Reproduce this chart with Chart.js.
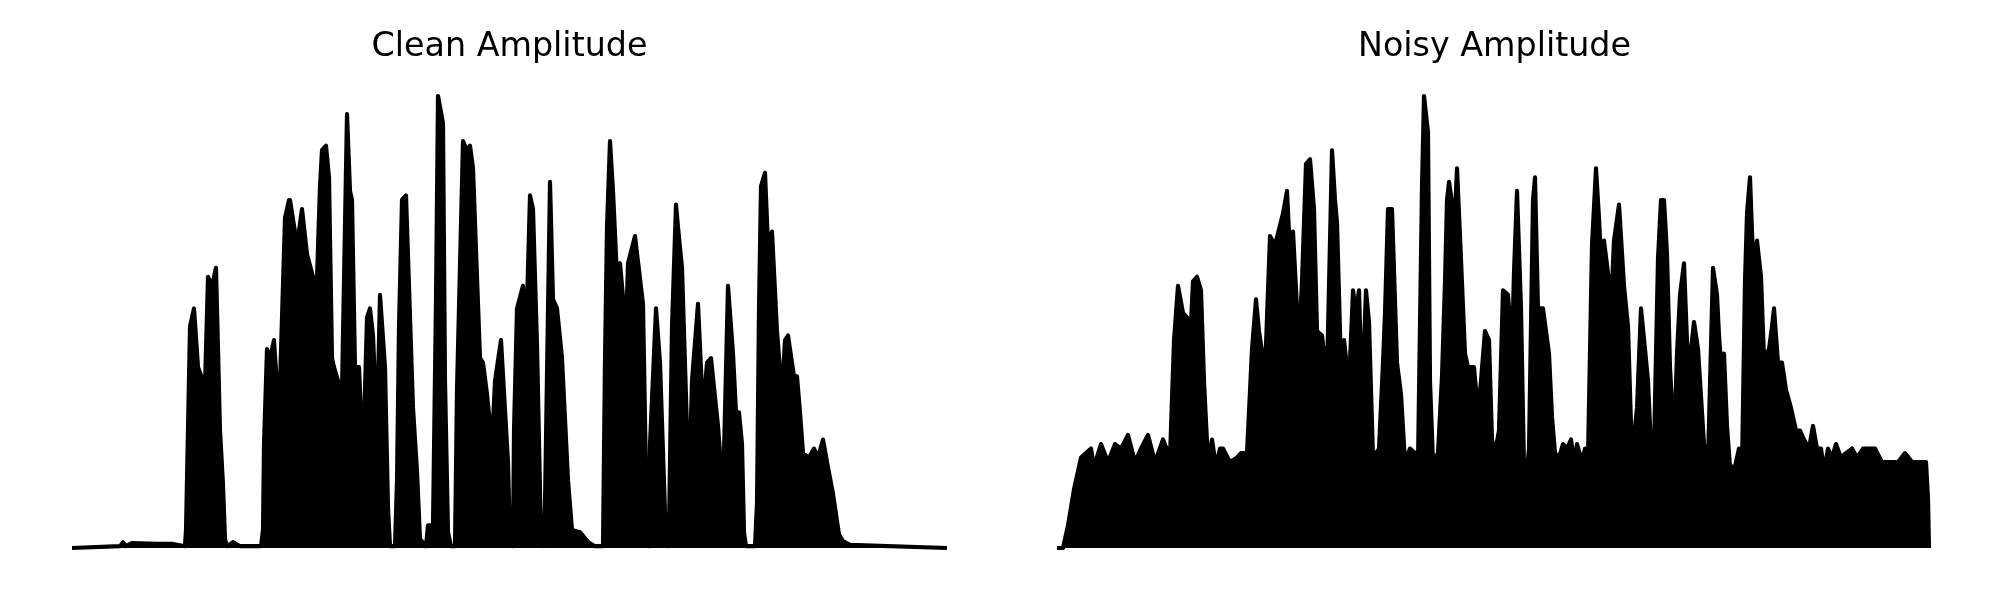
<!DOCTYPE html>
<html>
<head>
<meta charset="utf-8">
<script src="https://cdn.jsdelivr.net/npm/chart.js@4.4.1/dist/chart.umd.min.js"></script>
<style>
  html, body { margin: 0; padding: 0; background: #fff; }
  #wrap { position: relative; width: 2000px; height: 600px; }
  .panel { position: absolute; top: 0; width: 1000px; height: 600px; }
</style>
</head>
<body>
<div id="wrap">
  <div class="panel" style="left:0"><canvas id="clean" width="1000" height="600"></canvas></div>
  <div class="panel" style="left:1000px"><canvas id="noisy" width="1000" height="600"></canvas></div>
</div>
<script>
// envelope of the amplitude (frame index, normalised amplitude)
const titles = ["Clean Amplitude", "Noisy Amplitude"];
const frameCount = 875;

const cleanFrames = [0,48,51,54,60,85,101,113,114,118,122,126,131,133,136,140,144,148,151,153,155,161,168,
  189,191,192,195,198,202,207,213,217,218,225,230,235,241,243,248,250,254,257,260,
  262,266,270,275,278,280,283,287,291,295,298,301,305,308,313,316,318,323,325,327,
  330,334,341,345,348,354,356,361,364,366,371,373,376,379,383,385,391,395,398,401,
  408,411,415,420,423,429,436,438,441,442,445,451,454,458,461,465,469,472,473,478,
  481,485,490,496,500,508,516,523,531,533,535,538,541,545,548,554,556,563,571,575,
  577,578,584,588,594,596,597,600,604,606,610,617,620,626,631,635,639,646,651,656,
  661,664,667,670,672,674,683,685,687,689,693,696,700,705,710,713,716,722,725,728,
  731,737,742,746,751,755,761,767,771,778,875];
const cleanAmp = [0,0.004,0.013,0.004,0.011,0.009,0.009,0.004,0.04,0.49,0.53,0.40,0.37,
  0.36,0.60,0.58,0.62,0.26,0.14,0.02,0.004,0.013,0.004,
  0.004,0.04,0.23,0.44,0.42,0.46,0.29,0.73,0.77,0.77,
  0.67,0.75,0.65,0.60,0.46,0.80,0.88,0.89,0.82,0.42,
  0.40,0.37,0.35,0.96,0.79,0.77,0.40,0.40,0.19,0.51,
  0.53,0.47,0.26,0.56,0.40,0.09,0.004,0.004,0.15,0.49,
  0.77,0.78,0.31,0.17,0.02,0.004,0.05,0.05,0.55,1.00,
  0.94,0.37,0.035,0.004,0.004,0.35,0.90,0.88,0.89,0.84,
  0.42,0.41,0.34,0.23,0.37,0.46,0.19,0.02,0.004,0.26,
  0.53,0.58,0.46,0.78,0.75,0.45,0.02,0.004,0.10,0.81,
  0.55,0.53,0.42,0.15,0.04,0.035,0.013,0.004,0.004,0.42,
  0.71,0.90,0.79,0.60,0.63,0.48,0.63,0.69,0.54,0.03,
  0.004,0.23,0.53,0.41,0.013,0.004,0.04,0.49,0.76,0.71,
  0.62,0.12,0.37,0.54,0.30,0.41,0.42,0.27,0.12,0.58,
  0.43,0.30,0.30,0.23,0.035,0.004,0.004,0.10,0.53,0.80,
  0.83,0.67,0.70,0.48,0.34,0.46,0.47,0.38,0.38,0.30,
  0.21,0.20,0.22,0.20,0.24,0.19,0.12,0.03,0.015,0.007,0];

const noisyFrames = [0,6,11,17,24,34,37,44,51,58,
  64,71,78,84,91,98,106,113,117,121,126,130,133,136,140,144,147,151,155,159,
  163,166,173,180,184,190,195,199,202,208,213,218,226,230,233,236,240,242,245,249,
  253,257,260,265,270,275,278,280,284,287,292,296,299,302,305,309,312,316,322,326,
  328,331,335,340,344,348,353,358,361,365,367,371,373,376,381,385,388,390,392,396,
  398,400,403,408,411,417,421,424,428,432,435,438,442,446,451,455,457,460,464,467,
  470,472,476,478,481,486,492,495,498,502,506,510,514,517,520,525,528,531,535,539,
  542,544,547,552,555,557,562,567,571,575,580,584,588,591,594,597,601,604,607,610,
  613,617,620,623,627,631,634,637,641,647,651,656,660,662,664,667,670,673,678,682,
  685,688,690,693,696,700,704,707,712,715,717,721,725,729,734,739,743,747,752,756,
  760,764,767,771,775,779,784,789,795,800,806,811,818,825,830,834,841,848,855,861,
  869,871,872];
const noisyAmp = [0,0,0.05,0.13,0.20,0.22,0.18,0.23,0.19,0.23,
  0.22,0.25,0.19,0.22,0.25,0.19,0.24,0.20,0.46,0.58,
  0.52,0.51,0.45,0.59,0.60,0.57,0.37,0.19,0.24,0.18,
  0.22,0.22,0.19,0.20,0.21,0.21,0.44,0.55,0.48,0.39,
  0.69,0.67,0.74,0.79,0.65,0.70,0.53,0.45,0.59,0.85,
  0.86,0.75,0.48,0.47,0.38,0.88,0.77,0.72,0.40,0.46,
  0.36,0.57,0.52,0.57,0.33,0.57,0.50,0.20,0.22,0.41,
  0.52,0.75,0.75,0.41,0.34,0.19,0.22,0.21,0.19,0.80,
  1.00,0.92,0.37,0.19,0.21,0.38,0.59,0.77,0.81,0.75,
  0.74,0.84,0.69,0.43,0.40,0.40,0.30,0.37,0.48,0.46,
  0.24,0.21,0.26,0.57,0.56,0.44,0.61,0.79,0.53,0.18,
  0.17,0.22,0.77,0.82,0.53,0.53,0.43,0.29,0.21,0.20,
  0.23,0.22,0.24,0.19,0.23,0.19,0.22,0.20,0.67,0.84,
  0.73,0.64,0.68,0.59,0.58,0.68,0.76,0.58,0.49,0.20,
  0.31,0.53,0.44,0.37,0.22,0.22,0.64,0.77,0.77,0.65,
  0.40,0.23,0.43,0.56,0.63,0.40,0.44,0.50,0.44,0.23,
  0.19,0.62,0.56,0.47,0.41,0.43,0.27,0.18,0.18,0.22,
  0.18,0.59,0.74,0.82,0.64,0.68,0.60,0.42,0.44,0.49,
  0.53,0.41,0.41,0.35,0.31,0.26,0.26,0.24,0.22,0.27,
  0.22,0.22,0.17,0.22,0.20,0.23,0.20,0.21,0.22,0.20,
  0.22,0.22,0.22,0.19,0.19,0.19,0.19,0.21,0.19,0.19,
  0.19,0.11,0];

// matplotlib-like sizes for a 10x3in figure at 200 dpi
const titleSize = 12 * 200 / 72;
const lineWidth = 1.5 * 200 / 72;

function toPoints(frames, amps) {
  return frames.map((f, i) => ({ x: f, y: amps[i] }));
}

function makeChart(canvasId, title, frames, amps, padLeft, padRight) {
  return new Chart(document.getElementById(canvasId), {
    type: "line",
    data: {
      datasets: [
        {
          data: toPoints(frames, amps),
          borderColor: "#000",
          backgroundColor: "#000",
          borderWidth: lineWidth,
          borderJoinStyle: "round",
          fill: "origin",
          pointRadius: 0,
          tension: 0,
        },
      ],
    },
    options: {
      responsive: false,
      animation: false,
      layout: {
        padding: { left: padLeft, right: padRight, top: 0, bottom: 29.4 },
      },
      plugins: {
        legend: { display: false },
        tooltip: { enabled: false },
        title: {
          display: true,
          text: title,
          color: "#000",
          font: { family: "DejaVu Sans", size: titleSize, weight: "normal", lineHeight: 1.2 },
          padding: { top: 27, bottom: 6.4 },
        },
      },
      scales: {
        x: {
          type: "linear",
          display: false,
          min: -0.05 * frameCount,
          max: 1.05 * frameCount,
        },
        y: {
          display: false,
          min: -0.05,
          max: 1.05,
        },
      },
    },
  });
}

makeChart("clean", titles[0], cleanFrames, cleanAmp, 28.25, 9.25);
makeChart("noisy", titles[1], noisyFrames, noisyAmp, 13.25, 24.25);
</script>
</body>
</html>
